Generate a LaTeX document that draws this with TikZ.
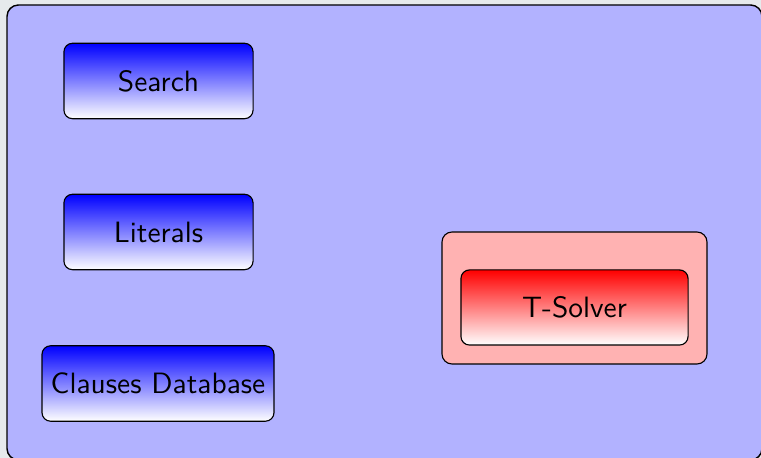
\documentclass[tikz,border=0pt]{standalone}
\usetikzlibrary{shadings}
\definecolor{pagebg}{RGB}{230,234,236}
\newcommand{\boxfont}{\sffamily\fontsize{10.3}{12}\selectfont}
\begin{document}
\begin{tikzpicture}[x=0.35pt,y=-0.35pt,
  bluebox/.style={draw=black, rounded corners=3pt, top color=blue, bottom color=white, font=\boxfont, inner sep=0pt, minimum height=26.4pt},
  redbox/.style={draw=black, rounded corners=3pt, top color=red, bottom color=white, font=\boxfont, inner sep=0pt, minimum height=26.3pt},
  pinkbox/.style={draw=black, rounded corners=3.5pt, fill=red!30, inner sep=0pt}]
\useasboundingbox (0,0) rectangle (761,458);
\fill[pagebg] (0,0) rectangle (761,458);
\draw[fill=blue!30, rounded corners=4pt, line width=0.5pt] (7,5) rectangle (762,460);
\node[bluebox, minimum width=66.2pt] (search) at (158.5,81) {Search};
\node[bluebox, minimum width=66.2pt] (literals) at (158.5,232) {Literals};
\node[bluebox, minimum width=81.2pt] (clauses) at (158,383.5) {Clauses Database};
\node[pinkbox, minimum width=92.75pt, minimum height=46.2pt] (tsbox) at (574.5,298) {};
\node[redbox, minimum width=79.5pt] (tsolver) at (574.5,307.5) {T-Solver};
\end{tikzpicture}
\end{document}
